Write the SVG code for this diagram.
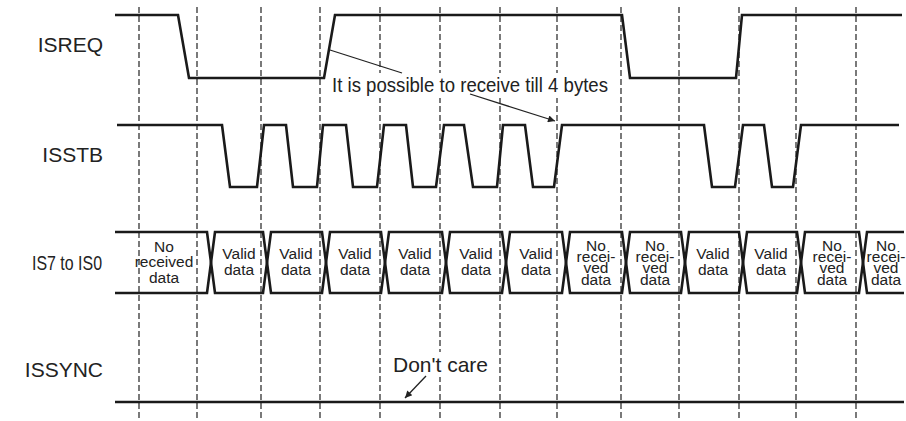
<svg xmlns="http://www.w3.org/2000/svg" width="906" height="421" viewBox="0 0 906 421">
<style>
.bg{fill:#fff}
.grid line{stroke:#222;stroke-width:1.2;stroke-dasharray:6 3}
.wave{fill:none;stroke:#1a1a1a;stroke-width:2.6;stroke-linejoin:miter}
.lbl{font-family:"Liberation Sans",Arial,sans-serif;font-size:21px;fill:#222;text-anchor:end}
.cell{font-family:"Liberation Sans",Arial,sans-serif;font-size:15.5px;fill:#222;text-anchor:middle}
.note{font-family:"Liberation Sans",Arial,sans-serif;fill:#222}
.lead{fill:none;stroke:#222;stroke-width:1.3}
</style>
<defs>
<marker id="ah" viewBox="0 0 10 10" refX="10" refY="5" markerWidth="10" markerHeight="7" markerUnits="userSpaceOnUse" orient="auto">
<path d="M0,0 L10,5 L0,10 z" fill="#222"/>
</marker>
</defs>
<rect class="bg" x="0" y="0" width="906" height="421"/>
<g id="grid" class="grid">
<line x1="139" y1="7" x2="139" y2="421"/>
<line x1="197" y1="7" x2="197" y2="421"/>
<line x1="261" y1="7" x2="261" y2="421"/>
<line x1="320" y1="7" x2="320" y2="421"/>
<line x1="380" y1="7" x2="380" y2="421"/>
<line x1="440" y1="7" x2="440" y2="421"/>
<line x1="500" y1="7" x2="500" y2="421"/>
<line x1="557" y1="7" x2="557" y2="421"/>
<line x1="621" y1="7" x2="621" y2="421"/>
<line x1="679" y1="7" x2="679" y2="421"/>
<line x1="739" y1="7" x2="739" y2="421"/>
<line x1="796" y1="7" x2="796" y2="421"/>
<line x1="856" y1="7" x2="856" y2="421"/>
</g>
<g id="isreq">
<text class="lbl" x="103" y="52">ISREQ</text>
<path class="wave" d="M115,15 H178 L189,78 H324 L335,15 H622 L630,78 H736 L742,15 H902"/>
</g>
<g id="isstb">
<text class="lbl" x="103" y="162">ISSTB</text>
<path class="wave" d="M117,125 H222 L230,187 H257 L264,125 H286 L293,187 H317 L323,125 H346 L353,187 H377 L384,125 H406 L413,187 H436 L444,125 H464 L473,187 H497 L503,125 H525 L533,187 H554 L562,125 H704 L712,187 H735 L743,125 H764 L772,187 H793 L801,125 H899"/>
</g>
<g id="is7-is0">
<text class="lbl" x="102" y="270" textLength="70" lengthAdjust="spacingAndGlyphs">IS7 to IS0</text>
<path class="wave" d="M115,232 H207 L215,293 H263 L271,232 H322 L330,293 H381 L389,232 H442 L450,293 H502 L510,232 H562 L570,293 H622 L630,232 H681 L689,293 H739 L747,232 H797 L805,293 H859 L867,232 H904"/>
<path class="wave" d="M115,293 H207 L215,232 H263 L271,293 H322 L330,232 H381 L389,293 H442 L450,232 H502 L510,293 H562 L570,232 H622 L630,293 H681 L689,232 H739 L747,293 H797 L805,232 H859 L867,293 H904"/>
<text class="cell" x="164"><tspan x="164" y="252">No</tspan><tspan x="164" y="267">received</tspan><tspan x="164" y="283">data</tspan></text>
<text class="cell"><tspan x="239" y="259">Valid</tspan><tspan x="239" y="275">data</tspan></text>
<text class="cell"><tspan x="296" y="259">Valid</tspan><tspan x="296" y="275">data</tspan></text>
<text class="cell"><tspan x="355" y="259">Valid</tspan><tspan x="355" y="275">data</tspan></text>
<text class="cell"><tspan x="415" y="259">Valid</tspan><tspan x="415" y="275">data</tspan></text>
<text class="cell"><tspan x="476" y="259">Valid</tspan><tspan x="476" y="275">data</tspan></text>
<text class="cell"><tspan x="536" y="259">Valid</tspan><tspan x="536" y="275">data</tspan></text>
<text class="cell"><tspan x="596" y="251">No</tspan><tspan x="596" y="262">recei-</tspan><tspan x="596" y="273">ved</tspan><tspan x="596" y="285">data</tspan></text>
<text class="cell"><tspan x="655" y="251">No</tspan><tspan x="655" y="262">recei-</tspan><tspan x="655" y="273">ved</tspan><tspan x="655" y="285">data</tspan></text>
<text class="cell"><tspan x="713" y="259">Valid</tspan><tspan x="713" y="275">data</tspan></text>
<text class="cell"><tspan x="771" y="259">Valid</tspan><tspan x="771" y="275">data</tspan></text>
<text class="cell"><tspan x="832" y="251">No</tspan><tspan x="832" y="262">recei-</tspan><tspan x="832" y="273">ved</tspan><tspan x="832" y="285">data</tspan></text>
<text class="cell"><tspan x="886" y="251">No</tspan><tspan x="886" y="262">recei-</tspan><tspan x="886" y="273">ved</tspan><tspan x="886" y="285">data</tspan></text>
</g>
<g id="issync">
<text class="lbl" x="103" y="377">ISSYNC</text>
<line class="wave" x1="115" y1="402" x2="904" y2="402"/>
</g>
<g id="note-4bytes">
<rect class="bg" x="329" y="73" width="282" height="25"/>
<text class="note" x="332" y="92" font-size="20" textLength="276" lengthAdjust="spacingAndGlyphs">It is possible to receive till 4 bytes</text>
</g>
<g id="note-dontcare">
<rect class="bg" x="390" y="352" width="100" height="25"/>
<text class="note" x="393" y="372" font-size="21" textLength="95" lengthAdjust="spacingAndGlyphs">Don't care</text>
</g>
<g id="connectors">
<line class="lead" x1="330" y1="50" x2="402" y2="73"/>
<line class="lead" x1="470" y1="94" x2="555" y2="121" marker-end="url(#ah)"/>
<line class="lead" x1="426" y1="376" x2="405" y2="398" marker-end="url(#ah)"/>
</g>
</svg>
